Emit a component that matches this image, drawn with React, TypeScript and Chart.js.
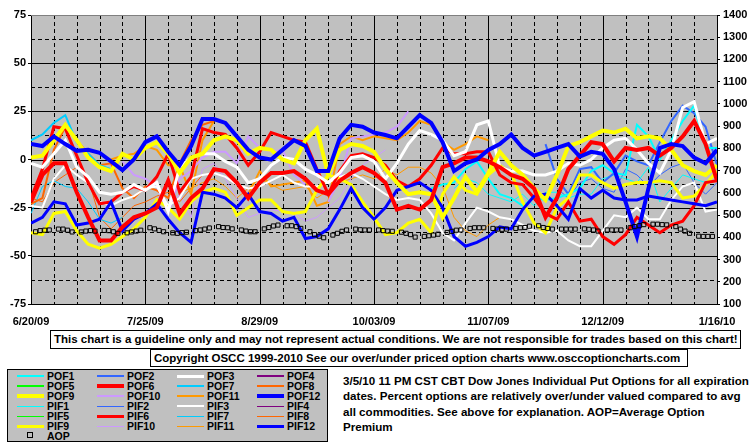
import React, { useEffect, useRef } from 'react';
import { Chart, registerables } from 'chart.js';

Chart.register(...registerables);

// ---------- axis labels ----------
const xLabels = ['6/20/09', '7/25/09', '8/29/09', '10/03/09', '11/07/09', '12/12/09', '1/16/10'];
const xLabelStepDays = 35;
const xMaxDays = 210;

// calendar-day positions of the sampled line points (days after 6/20/09)
const days = [0, 3.5, 7, 10.5, 14, 17.5, 21, 24.5, 28, 31.5, 35, 38.5, 42, 45.5, 49, 52.5, 56, 59.5, 63, 66.5,
  70, 73.5, 77, 80.5, 84, 87.5, 91, 94.5, 98, 101.5, 105, 108.5, 112, 115.5, 119, 122.5, 126, 129.5, 133, 136.5,
  140, 143.5, 147, 150.5, 154, 157.5, 161, 164.5, 168, 171.5, 175, 178.5, 182, 185.5, 189, 192.5, 196, 199.5, 203, 206.5, 210];

// ---------- series (percent over/under valued) ----------
const pof12 = [8, 7, 12, 8, 4.5, 5, 3.5, -1, -5.5, 0,
  9, 12, 4, -3, 7, 21, 21, 19, 12, 5,
  1, 0, 5, 10, 7, -6, -6, 11, 18, 17,
  14, 12.7, 11, 17, 23, 19, 9, -6, -2, 0,
  5, 8, 13, 6, 2, 4, 6, 8, 1.5, 4,
  3, -5, -22, -40, -15, 6, 8, 7, 1, -2, 5];
const pif12 = [-33, -30, -22, -23, -34, -33, -31, -22, -37, -31,
  -28, -23, -31, -38, -43, -17, -18, -20, -25, -18,
  -27, -28, -32, -30, -41, -40, -36, -26, -15, -25,
  -31, -25, -16, -14, -12, -16, -25, -40, -45, -43,
  -40, -35, -36, -26, -19, -18, -24, -31, -15, -20,
  -16, -20, -21, -21, -19, -20, -21, -22, -23, -24, -22];
const pof6 = [-22, -8, -2, -2, -17, -30, -42, -42, -35, -30,
  -28, -25, -11, -28, -20, -15, -5, -6, -12, -20,
  -12, -7, -7, -6, -10, -16, -18, -11, -7, -4,
  -7, -12, -26, -24, -26, -21, -4, -2, 1, 1,
  -1, -4, -8, -10, -15, -30, -20, -5, 2, 9,
  8, -1, 6, 5, 6, 2, 6, 12, 20, 8, -11];
const pif6 = [-20, -5, 17, 16, 2, -12, -23, -22, -17, -14,
  -16, -9, 3, -17, -9, 16, 14, 13, 6, -3,
  4, 14, 12, 10, 9, -5, -18, -6, 2, 3,
  1, -3, -11, -14, -10, -3, 6, 3, 3, 4,
  4, -8, -12, -13, -20, -28, -31, -22, -32, -31,
  -40, -44, -39, -30, -34, -38, -34, -32, -24, -12, -11];
const pof9 = [1, 2, 10, 18, 10, 1, -4, -6, 3, 0,
  6, 9, 3, -7, 1, 3, 10, 12, 10, 3,
  6, 5, 0, -2, 10, 16, -8, 5, 8, 7,
  4, -5, -12, -18, -17, -18, -30, -20, -9, -17,
  -7, 4, -3, -8, -15, -21, -8, 7, 9, 12,
  15, 14, 16, 11, 12, 11, 5, -3, -6, -8, -3];
const pif9 = [-38, -39, -28, -27, -37, -44, -46, -44, -40, -36,
  -30, -21, -25, -31, -22, -17, -15, -17, -29, -25,
  -21, -21, -27, -28, -27, -16, -8, -10, -13, -22,
  -30, -39, -38, -33, -31, -38, -18, -9, -16, -18,
  -8, -3, -7, -22, -33, -38, -25, -20, -8, -8,
  -12, -15, -13, -12, -12, -11, -12, -20, -19, -13, -6];
const pof3 = [-2, -4, 3, 10, -4, -9, -17, -18, -17, -13,
  -16, -12, -27, -4, 1, 3, 3, -1, -4, -12,
  -10, -3, 1, 0, -5, -8, -12, -7, 1, 2,
  -1, -10, -2, 8, 15, 13, 10, 2, 4, 18,
  20, -4, -6, -6, -8, -8, -6, -2, -3, 0,
  6, 10, 11, 5, -2, -7, 5, 27, 30, 8, 11];
const pif3 = [-24, -25, -10, -3, -8, -12, -22, -24, -21, -19,
  -15, -14, -24, -20, -10, -8, -7, -9, -13, -15,
  -14, -11, -8, -12, -14, -14, -12, -9, -7, -10,
  -14, -18, -21, -20, -21, -28, -38, -42, -33, -25,
  -27, -30, -31, -34, -37, -38, -37, -42, -45, -45,
  -37, -29, -30, -25, -31, -31, -21, -14, -12, -27, -26];
const pof7 = [10, 13, 19, 23, 9, 3, -3, -5];
const pif7 = [-28, -14, -11, -14, -15, -22, -31, -33, -30];
const pof8 = [-23, -20, 5, 17, 10, 3, -3, -2, -15, -20, -14, -16, -20, -2, 10, 18, 20];
const pif8 = [-20, -22, -12, -8, -4, -10, -30, -36, -30, -24, -22, -19, -17, -22, -15, -8];
const pof10 = [-1, -8, -10, -14, -28, -10, -6, 1, 4, 4, -2, 12, 6, 4, 5, -8, -13, null, -22, -10, 11, 12, 13, 14, 17, 25];
const pif10 = [-15, -25, -18, -30, -5, -2, -10, -20, -30, -28, -26, -27, -28, -32, -30, -25, -20, -10, -3, 1, 5];
const pof11 = [0, 2, 3, 7, 5, -3, -3, -18, 10, 20, null, null, -18, -6, -14, -13, -12, -11, -24, -22,
  8, 12, 10, 12, 11, 10, 14, 20, 18, 9, 5, 8, 12, 10];
const pif11 = [-17, -15, -12, -10, -14, -20, -15, -10, -13, -16, -15, -14, -20, -16, -12, -10, -8, -10, -5, -8,
  -4, -4, -7, -14, -30, -37, -40, -34, -30];
const pof1 = [-15, -13, -12, -5, -1, -10, -18, -20, -24, -20, -21, -20, -18, -15, -6, -3, -7, -8, 18, 12, 0, 10, 20, 28, 6, 6];
const pif1 = [-15, -10, -12, -18, -20, -22, -18, -24, -17, -17, -20, -18, -18, -10, -8, -10, -12, -4, -22, -15, -8, -10, -12, -6];
const pof2 = [8, -10, -18, -5, -4, -12, -7, 2, -1, -3, 9, 20, 28, 24, 17, -3];
const pif2 = [-15, -20, -12, -10, -15, -17, -5, -8, -14, -8, -4, -2, -12, -18, -12];
const pof4: (number | null)[] = [];
const pof5: (number | null)[] = [];
const pif4: (number | null)[] = [];
const pif5: (number | null)[] = [];

// Average Option Premium, one value per trading day (right axis)
const aop = [
  null, 425, 430, 432, 433, null, 437, 437, 432, 424, null, 424, 428, 430, 428,
  null, 431, 430, 425, 418, null, 420, 424, 428, 432, null, 443, 438, 431, 425,
  null, 420, 418, 421, 423, null, 430, 433, 437, 442, null, 448, 444, 443, 438,
  null, 433, 428, 425, 425, null, 438, 444, 451, 455, null, 452, 452, 448, 440,
  null, 425, 412, 405, 398, null, 410, 418, 427, 433, null, 437, 434, 433, 433,
  null, 433, 430, 428, 427, null, 423, 418, 412, 401, null, 404, 407, 410, 414,
  null, 422, 427, 432, 433, null, 440, 443, 443, 443, null, 440, 437, 436, 437,
  null, 440, 443, 444, 450, null, 452, 444, 440, 437, null, 437, 437, 437, 437,
  null, 438, 436, 433, 428, null, 433, 433, 433, 433, null, 443, 448, 452, 457,
  null, 459, 459, 457, 456, null, 448, 437, 428, 418, null, 405, 404, 404, 404];
const aopTradingDays = 150;

// ---------- styles ----------
const styles: Record<string, { color: string; width: number }> = {
  POF1: { color: '#00FFFF', width: 2 }, POF2: { color: '#3366FF', width: 2 }, POF3: { color: '#FFFFFF', width: 3 },
  POF4: { color: '#800080', width: 2 }, POF5: { color: '#00FF00', width: 2 }, POF6: { color: '#FF0000', width: 4 },
  POF7: { color: '#00CCFF', width: 2 }, POF8: { color: '#FF6600', width: 2 }, POF9: { color: '#FFFF00', width: 4 },
  POF10: { color: '#CC99FF', width: 2 }, POF11: { color: '#FF9900', width: 2 }, POF12: { color: '#0000FF', width: 4 },
  PIF1: { color: '#00FFFF', width: 1 }, PIF2: { color: '#3366FF', width: 1 }, PIF3: { color: '#FFFFFF', width: 2 },
  PIF4: { color: '#800080', width: 1 }, PIF5: { color: '#00FF00', width: 1 }, PIF6: { color: '#FF0000', width: 3 },
  PIF7: { color: '#00CCFF', width: 1 }, PIF8: { color: '#FF6600', width: 1 }, PIF9: { color: '#FFFF00', width: 3 },
  PIF10: { color: '#CC99FF', width: 1 }, PIF11: { color: '#FF9900', width: 1 }, PIF12: { color: '#0000FF', width: 3 },
};

// drawing order: first = on top
const seriesList: { label: string; values: (number | null)[]; start: number }[] = [
  { label: 'POF12', values: pof12, start: 0 },
  { label: 'POF6', values: pof6, start: 0 },
  { label: 'POF9', values: pof9, start: 0 },
  { label: 'PIF12', values: pif12, start: 0 },
  { label: 'POF3', values: pof3, start: 0 },
  { label: 'PIF6', values: pif6, start: 0 },
  { label: 'PIF9', values: pif9, start: 0 },
  { label: 'PIF3', values: pif3, start: 0 },
  { label: 'POF1', values: pof1, start: 35 },
  { label: 'POF2', values: pof2, start: 45 },
  { label: 'POF7', values: pof7, start: 0 },
  { label: 'POF8', values: pof8, start: 0 },
  { label: 'POF10', values: pof10, start: 8 },
  { label: 'POF11', values: pof11, start: 7 },
  { label: 'PIF1', values: pif1, start: 37 },
  { label: 'PIF2', values: pif2, start: 46 },
  { label: 'PIF7', values: pif7, start: 0 },
  { label: 'PIF8', values: pif8, start: 0 },
  { label: 'PIF10', values: pif10, start: 11 },
  { label: 'PIF11', values: pif11, start: 13 },
  { label: 'POF4', values: pof4, start: 0 },
  { label: 'POF5', values: pof5, start: 0 },
  { label: 'PIF4', values: pif4, start: 0 },
  { label: 'PIF5', values: pif5, start: 0 },
];

const legendRows = [
  ['POF1', 'POF2', 'POF3', 'POF4'],
  ['POF5', 'POF6', 'POF7', 'POF8'],
  ['POF9', 'POF10', 'POF11', 'POF12'],
  ['PIF1', 'PIF2', 'PIF3', 'PIF4'],
  ['PIF5', 'PIF6', 'PIF7', 'PIF8'],
  ['PIF9', 'PIF10', 'PIF11', 'PIF12'],
];

const disclaimer = 'This chart is a guideline only and may not represent actual conditions. We are not responsible for trades based on this chart!';
const copyright = 'Copyright OSCC 1999-2010 See our over/under priced option charts www.osccoptioncharts.com';
const noteLines = [
  '3/5/10 11 PM CST CBT Dow Jones Individual Put Options for all expiration',
  'dates. Percent options are relatively over/under valued compared to avg',
  'all commodities. See above for explanation. AOP=Average Option',
  'Premium',
];

const FONT = '"Liberation Sans", Arial, Helvetica, sans-serif';
const gridMinorDays = 7;
const gridMinorPct = 12.5;

const gridPlugin = {
  id: 'oscGrid',
  beforeDraw(chart: any) {
    const { ctx, chartArea: a } = chart;
    ctx.save();
    ctx.fillStyle = '#C0C0C0';
    ctx.fillRect(a.left, a.top, a.right - a.left, a.bottom - a.top);
    ctx.restore();
  },
  beforeDatasetsDraw(chart: any) {
    const { ctx, chartArea: a, scales } = chart;
    const xs = scales.x;
    const ys = scales.y;
    ctx.save();
    ctx.lineWidth = 1;
    ctx.strokeStyle = '#000000';
    for (let d = 0; d <= xMaxDays; d += gridMinorDays) {
      const px = Math.round(xs.getPixelForValue(d)) + 0.5;
      ctx.setLineDash(d % xLabelStepDays === 0 ? [] : [4, 3]);
      ctx.beginPath();
      ctx.moveTo(px, a.top);
      ctx.lineTo(px, a.bottom);
      ctx.stroke();
    }
    for (let v = ys.min; v <= ys.max; v += gridMinorPct) {
      const py = Math.round(ys.getPixelForValue(v)) + 0.5;
      ctx.setLineDash(v % 25 === 0 ? [] : [4, 3]);
      ctx.strokeStyle = v === ys.max ? '#808080' : '#000000';
      ctx.beginPath();
      ctx.moveTo(a.left, py);
      ctx.lineTo(a.right, py);
      ctx.stroke();
    }
    ctx.restore();
  },
};

function ChartCanvas() {
  const ref = useRef<HTMLCanvasElement | null>(null);
  useEffect(() => {
    if (!ref.current) return;
    Chart.defaults.font.family = FONT;
    const lineSets = seriesList.map((s) => ({
      label: s.label,
      data: s.values.map((v, i) => ({ x: days[s.start + i], y: v })),
      borderColor: styles[s.label].color,
      backgroundColor: styles[s.label].color,
      borderWidth: styles[s.label].width,
      pointRadius: 0,
      fill: false,
      tension: 0,
      spanGaps: false,
      xAxisID: 'x',
      yAxisID: 'y',
    }));
    const aopSet = {
      label: 'AOP',
      data: aop.map((v, i) => ({ x: i, y: v })),
      showLine: false,
      pointStyle: 'rect',
      pointRadius: 2.9,
      pointBorderWidth: 1,
      pointBorderColor: '#000000',
      pointBackgroundColor: 'rgba(0,0,0,0)',
      borderColor: '#000000',
      backgroundColor: 'rgba(0,0,0,0)',
      xAxisID: 'x2',
      yAxisID: 'y1',
    };
    const tickFont = { family: FONT, size: 11, weight: 'bold' as const };
    const chart = new Chart(ref.current, {
      type: 'line',
      data: { datasets: [aopSet as any, ...lineSets] },
      options: {
        responsive: false,
        animation: false,
        layout: { padding: { top: 15, left: 0, right: 0, bottom: 0 } },
        plugins: { legend: { display: false }, tooltip: { enabled: false } },
        scales: {
          x: {
            type: 'linear', min: 0, max: xMaxDays,
            afterFit: (s: any) => { s.height = 28; },
            grid: { display: false },
            border: { display: true, color: '#000000', width: 1 },
            ticks: {
              stepSize: xLabelStepDays, autoSkip: false, maxRotation: 0, minRotation: 0,
              padding: 3, color: '#000000', font: tickFont,
              callback: (v: any) => xLabels[Math.round(Number(v) / xLabelStepDays)] ?? '',
            },
          },
          x2: { type: 'linear', min: 0, max: aopTradingDays, display: false },
          y: {
            type: 'linear', position: 'left', min: -75, max: 75,
            afterFit: (s: any) => { s.width = 31; },
            grid: { display: true, drawOnChartArea: false, drawTicks: true, tickLength: 3, tickColor: '#000000' },
            border: { display: true, color: '#000000', width: 1 },
            ticks: { stepSize: 25, padding: 2, color: '#000000', font: tickFont, callback: (v: any) => String(v) },
          },
          y1: {
            type: 'linear', position: 'right', min: 100, max: 1400,
            afterFit: (s: any) => { s.width = 38; },
            grid: { display: true, drawOnChartArea: false, drawTicks: true, tickLength: 3, tickColor: '#000000' },
            border: { display: true, color: '#000000', width: 1 },
            ticks: { stepSize: 100, padding: 3, color: '#000000', font: tickFont, callback: (v: any) => String(v) },
          },
        },
      } as any,
      plugins: [gridPlugin],
    });
    return () => chart.destroy();
  }, []);
  return <canvas ref={ref} width={755} height={332} style={{ position: 'absolute', left: 0, top: 0 }} />;
}

function Legend() {
  const colX = [0, 80, 160, 240];
  const rowY = [7, 17, 27, 37, 47, 57];
  return (
    <div style={{
      position: 'absolute', left: 7, top: 369, width: 321, height: 73, boxSizing: 'border-box',
      border: '1px solid #000', background: '#C0C0C0',
    }}>
      {legendRows.map((row, r) => row.map((name, c) => {
        const st = styles[name];
        return (
          <React.Fragment key={name}>
            <div style={{
              position: 'absolute', left: 9 + colX[c], top: rowY[r] - 1 - st.width / 2, width: 27, height: st.width,
              background: st.color,
            }} />
            <div style={{
              position: 'absolute', left: 39 + colX[c], top: rowY[r] - 6, fontSize: 10.5, lineHeight: '10px',
              fontWeight: 'bold', whiteSpace: 'nowrap',
            }}>{name}</div>
          </React.Fragment>
        );
      }))}
      <div style={{
        position: 'absolute', left: 19, top: 62, width: 6, height: 6, boxSizing: 'border-box',
        border: '1px solid #000',
      }} />
      <div style={{
        position: 'absolute', left: 39, top: 61, fontSize: 10.5, lineHeight: '10px', fontWeight: 'bold',
      }}>AOP</div>
    </div>
  );
}

export default function App() {
  return (
    <div style={{
      position: 'absolute', left: 0, top: 0, width: 755, height: 446, background: '#FFFFFF',
      fontFamily: FONT, color: '#000', overflow: 'hidden',
    }}>
      <ChartCanvas />
      <div style={{
        position: 'absolute', left: 50, top: 330, width: 691, height: 19, boxSizing: 'border-box',
        border: '1px solid #000', fontSize: 11.5, fontWeight: 'bold', lineHeight: '17px', paddingLeft: 3,
        whiteSpace: 'nowrap', background: '#fff',
      }}>{disclaimer}</div>
      <div style={{
        position: 'absolute', left: 150, top: 349, width: 538, height: 18, boxSizing: 'border-box',
        border: '1px solid #000', fontSize: 11.5, fontWeight: 'bold', lineHeight: '16px', paddingLeft: 3,
        whiteSpace: 'nowrap', background: '#fff',
      }}>{copyright}</div>
      <Legend />
      <div style={{
        position: 'absolute', left: 343, top: 373, fontSize: 11.6, fontWeight: 'bold', lineHeight: '15.3px',
        whiteSpace: 'nowrap',
      }}>
        {noteLines.map((l, i) => <div key={i}>{l}</div>)}
      </div>
    </div>
  );
}
